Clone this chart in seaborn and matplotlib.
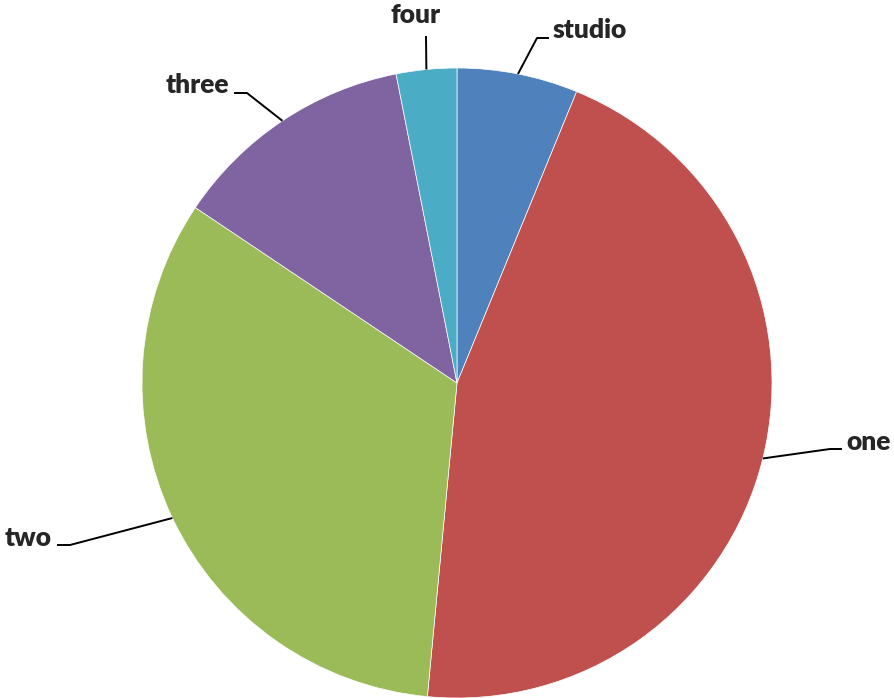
import matplotlib
matplotlib.use("Agg")
import matplotlib.pyplot as plt
import numpy as np
import seaborn as sns

# slice shares in percent (clockwise from 12 o'clock)
categories = ["studio", "one", "two", "three", "four"]
shares = [6.2, 45.3, 32.9, 12.5, 3.1]
colors = ["#4F81BD", "#C0504D", "#9BBB59", "#8064A2", "#4BACC6"]

# label placement in pixel space (x, y from top), horizontal alignment, elbow point
label_pos = {
    "studio": ((553, 30), "left", (537, 38)),
    "one": ((846, 442), "left", (830, 449)),
    "two": ((52, 538), "right", (70, 545)),
    "three": ((229, 85), "right", (247, 93)),
    "four": ((416, 15), "center", (426, 36)),
}

W, H = 894, 698
CX, CY, R = 457, 383, 315

sns.set_theme(style="white")
plt.rcParams["font.family"] = ["Lato", "DejaVu Sans"]

fig = plt.figure(figsize=(W / 100, H / 100), dpi=100)
ax = fig.add_axes([0, 0, 1, 1])

palette = sns.color_palette(colors)
wedges, _ = ax.pie(
    shares,
    colors=palette,
    startangle=90,
    counterclock=False,
    center=(CX, H - CY),
    radius=R,
    frame=True,
    wedgeprops=dict(edgecolor="white", linewidth=0.5),
)
ax.set_xlim(0, W)
ax.set_ylim(0, H)
ax.set_aspect("equal")
ax.axis("off")

for w, name in zip(wedges, categories):
    mid = np.deg2rad((w.theta1 + w.theta2) / 2)
    ax_x = CX + R * np.cos(mid)
    ax_y = (H - CY) + R * np.sin(mid)
    (tx, ty), ha, (ex, ey) = label_pos[name]
    ty, ey = H - ty, H - ey
    if ha == "left":
        xs, ys = [ax_x, ex, ex + 12], [ax_y, ey, ey]
    elif ha == "right":
        xs, ys = [ax_x, ex, ex - 13], [ax_y, ey, ey]
    else:
        xs, ys = [ax_x, ex], [ax_y, ey]
    ax.plot(xs, ys, color="black", lw=1.4, solid_capstyle="butt")
    ax.text(tx, ty, name, ha=ha, va="center", fontsize=19,
            fontweight="heavy", color="#262626")

fig.savefig("out.png", dpi=100)
